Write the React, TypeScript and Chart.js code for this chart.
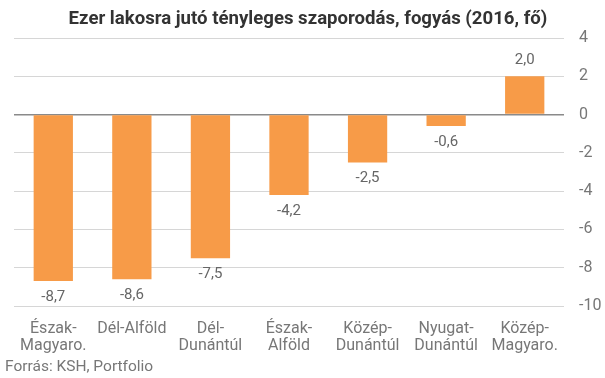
import React, { useEffect, useRef } from "react";
import { Chart, registerables } from "chart.js";

Chart.register(...registerables);

const categories: string[][] = [
  ["Észak-", "Magyaro."],
  ["Dél-Alföld"],
  ["Dél-", "Dunántúl"],
  ["Észak-", "Alföld"],
  ["Közép-", "Dunántúl"],
  ["Nyugat-", "Dunántúl"],
  ["Közép-", "Magyaro."],
];
const values: number[] = [-8.7, -8.6, -7.5, -4.2, -2.5, -0.6, 2.0];
const titleText = "Ezer lakosra jutó tényleges szaporodás, fogyás (2016, fő)";
const sourceText = "Forrás: KSH, Portfolio";

const FONT = "Roboto, 'Noto Sans', sans-serif";

export default function App() {
  const ref = useRef<HTMLCanvasElement | null>(null);
  useEffect(() => {
    document.body.style.margin = "0";
    const canvas = ref.current!;
    const extras = {
      id: "extras",
      afterDatasetsDraw(chart: any) {
        const ctx = chart.ctx;
        const meta = chart.getDatasetMeta(0);
        ctx.save();
        ctx.font = `15px ${FONT}`;
        ctx.fillStyle = "#666";
        ctx.textAlign = "center";
        ctx.textBaseline = "middle";
        meta.data.forEach((bar: any, i: number) => {
          const v = values[i];
          const txt = v.toFixed(1).replace(".", ",");
          const y = v < 0 ? bar.y + 16 : bar.y - 16;
          ctx.fillText(txt, bar.x, y);
        });
        ctx.font = `bold 18.6px ${FONT}`;
        ctx.fillStyle = "#333";
        ctx.fillText(titleText, 308, 19);
        ctx.font = `15.5px ${FONT}`;
        ctx.fillStyle = "#777";
        ctx.textAlign = "left";
        ctx.fillText(sourceText, 5, 367);
        ctx.restore();
      },
    };
    const chart = new Chart(canvas, {
      type: "bar",
      data: {
        labels: categories,
        datasets: [
          {
            data: values,
            backgroundColor: "#F79B48",
            barPercentage: 0.5,
            categoryPercentage: 1,
          },
        ],
      },
      options: {
        animation: false,
        responsive: false,
        maintainAspectRatio: false,
        layout: { padding: { top: 38, left: 14, right: 0, bottom: 0 } },
        plugins: {
          legend: { display: false },
          tooltip: { enabled: false },
          title: { display: false },
        },
        scales: {
          x: {
            grid: { display: false, drawTicks: false },
            border: { display: false },
            afterFit: (s: any) => {
              s.height = 72;
            },
            ticks: {
              color: "#777",
              font: { family: FONT, size: 16, lineHeight: 1.1 },
              padding: 14,
              maxRotation: 0,
              autoSkip: false,
            },
          },
          y: {
            position: "right",
            min: -10,
            max: 4,
            border: { display: false },
            afterFit: (s: any) => {
              s.width = 41;
            },
            grid: {
              drawTicks: false,
              color: (c: any) => (c.tick && c.tick.value === 0 ? "#8a8a8a" : "#d6d6d6"),
              lineWidth: (c: any) => (c.tick && c.tick.value === 0 ? 1.5 : 1),
            },
            ticks: {
              stepSize: 2,
              color: "#777",
              font: { family: FONT, size: 16 },
              padding: 15,
            },
          },
        },
      },
      plugins: [extras],
    });
    return () => chart.destroy();
  }, []);
  return (
    <div style={{ width: 605, height: 378 }}>
      <canvas ref={ref} width={605} height={378} style={{ width: 605, height: 378, display: "block" }} />
    </div>
  );
}
